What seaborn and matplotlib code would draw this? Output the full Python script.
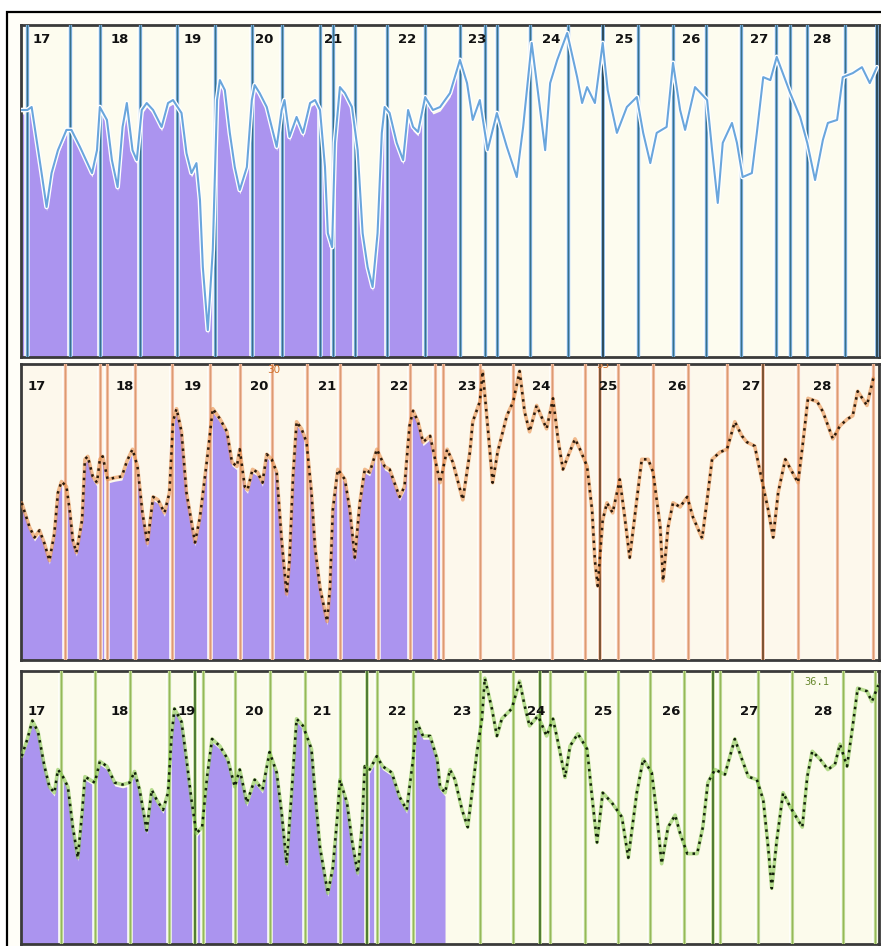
import numpy as np
import pandas as pd
import matplotlib
matplotlib.use("Agg")
import matplotlib.pyplot as plt
from matplotlib.patches import Rectangle
import seaborn as sns

# ---------------- data ----------------
day_labels = ["17", "18", "19", "20", "21", "22", "23", "24", "25", "26", "27", "28"]

# panel 1 (blue)
p1_day = [17.00, 17.08, 17.14, 17.21, 17.28, 17.35, 17.42, 17.51, 17.63, 17.70, 17.82, 17.99, 18.06, 18.10, 18.20,
          18.27, 18.35, 18.42, 18.48, 18.56, 18.62, 18.69, 18.76, 18.85, 18.97, 19.06, 19.13, 19.25, 19.32, 19.39,
          19.46, 19.51, 19.55, 19.62, 19.69, 19.75, 19.79, 19.86, 19.93, 20.00, 20.07, 20.17, 20.24, 20.28, 20.35,
          20.45, 20.52, 20.59, 20.66, 20.70, 20.77, 20.87, 20.96, 21.06, 21.13, 21.20, 21.27, 21.31, 21.37, 21.41,
          21.48, 21.55, 21.65, 21.73, 21.80, 21.87, 21.94, 22.01, 22.07, 22.11, 22.18, 22.28, 22.37, 22.44, 22.51,
          22.58, 22.68, 22.79, 22.89, 23.03, 23.17, 23.27, 23.35, 23.45, 23.56, 23.69, 23.83, 23.97, 24.06, 24.18,
          24.27, 24.37, 24.44, 24.54, 24.68, 24.82, 24.89, 24.96, 25.07, 25.18, 25.25, 25.38, 25.52, 25.66, 25.75,
          25.85, 25.94, 26.08, 26.17, 26.27, 26.34, 26.48, 26.65, 26.72, 26.80, 26.87, 27.00, 27.07, 27.15, 27.28,
          27.35, 27.44, 27.54, 27.63, 27.82, 27.96, 28.06, 28.17, 28.28, 28.35, 28.48, 28.56, 28.70, 28.83, 28.94,
          29.04]
p1_val = [74.4, 74.4, 75.3, 65.4, 55.4, 45.2, 55.4, 62.3, 68.4, 68.4, 63.3, 55.4, 62.3, 75.3, 71.4,
          59.3, 51.2, 69.3, 76.5, 62.3, 59.3, 74.4, 76.5, 74.4, 69.3, 76.5, 77.4, 73.5, 61.4, 55.4,
          58.4, 47.3, 27.1, 8.1, 32.2, 77.4, 83.4, 80.4, 67.5, 57.2, 50.3, 57.2, 77.4, 81.9, 79.5,
          75.3, 69.3, 63.3, 74.4, 77.4, 66.3, 72.3, 67.5, 76.5, 77.4, 74.4, 57.2, 37.3, 33.1, 64.5,
          81.3, 79.5, 75.3, 62.3, 37.3, 27.1, 21.1, 37.3, 67.5, 75.3, 73.5, 64.5, 59.3, 74.4, 69.3,
          67.8, 78.3, 74.4, 75.3, 79.5, 89.5, 82.5, 71.4, 77.4, 62.3, 73.5, 63.3, 54.2, 69.3, 94.6,
          79.5, 62.3, 82.5, 89.5, 97.6, 84.3, 76.5, 81.3, 76.5, 94.6, 80.4, 67.5, 75.3, 78.3, 67.5,
          58.4, 67.5, 69.3, 88.6, 74.4, 68.4, 81.3, 77.4, 62.3, 46.4, 64.5, 70.5, 64.5, 54.2, 55.4,
          67.5, 84.3, 83.4, 90.4, 79.5, 72.3, 64.5, 53.3, 65.4, 70.5, 71.4, 84.3, 85.5, 87.3, 82.5,
          87.3]
p1_marks = [17.08, 17.68, 18.10, 18.66, 19.18, 19.72, 20.24, 20.66, 21.20, 21.38, 21.69, 22.15, 22.68, 23.17,
            23.52, 23.69, 24.15, 24.69, 25.18, 25.68, 26.17, 26.63, 27.13, 27.62, 27.82, 28.06, 28.59, 29.04]
p1_dark = [25.18, 29.04]
p1_fill_end = 23.17

# panel 2 (orange)
p2_day = [17.00, 17.11, 17.18, 17.25, 17.32, 17.39, 17.46, 17.51, 17.56, 17.63, 17.68, 17.72, 17.77, 17.85, 17.89,
          17.93, 18.00, 18.06, 18.10, 18.14, 18.21, 18.31, 18.41, 18.48, 18.56, 18.63, 18.70, 18.77, 18.85, 18.92,
          19.01, 19.08, 19.13, 19.18, 19.25, 19.32, 19.44, 19.51, 19.61, 19.69, 19.79, 19.89, 19.96, 20.03, 20.07,
          20.14, 20.18, 20.25, 20.32, 20.39, 20.45, 20.52, 20.59, 20.66, 20.73, 20.77, 20.82, 20.87, 20.94, 21.01,
          21.08, 21.13, 21.20, 21.30, 21.34, 21.38, 21.45, 21.55, 21.62, 21.69, 21.76, 21.83, 21.90, 22.00, 22.11,
          22.18, 22.32, 22.39, 22.46, 22.51, 22.58, 22.65, 22.75, 22.85, 22.89, 22.99, 23.07, 23.21, 23.31, 23.35,
          23.45, 23.49, 23.56, 23.63, 23.70, 23.83, 23.92, 24.01, 24.08, 24.15, 24.25, 24.39, 24.48, 24.55, 24.62,
          24.69, 24.79, 24.86, 24.96, 25.03, 25.07, 25.11, 25.18, 25.24, 25.32, 25.42, 25.49, 25.56, 25.66, 25.73,
          25.82, 25.89, 25.99, 26.03, 26.10, 26.17, 26.27, 26.37, 26.45, 26.58, 26.65, 26.72, 26.83, 26.93, 27.04,
          27.14, 27.21, 27.32, 27.42, 27.51, 27.58, 27.65, 27.75, 27.85, 27.93, 28.00, 28.07, 28.20, 28.28, 28.42,
          28.52, 28.63, 28.70, 28.77, 28.90, 28.99]
p2_val = [53.1, 44.9, 41.4, 43.8, 39.4, 33.6, 42.8, 56.5, 60.3, 58.6, 49.7, 40.4, 36.3, 47.3, 67.8,
          68.8, 62.0, 59.9, 67.8, 68.8, 61.0, 61.6, 62.0, 67.1, 71.2, 65.4, 49.7, 39.4, 55.1, 54.1,
          49.7, 56.5, 80.5, 84.9, 77.1, 56.5, 39.7, 48.3, 67.8, 84.9, 81.5, 77.1, 66.8, 65.4, 71.2,
          58.6, 57.5, 64.4, 63.4, 59.9, 69.5, 67.8, 63.4, 40.4, 22.3, 33.6, 62.0, 80.5, 78.1, 73.6,
          56.5, 38.0, 24.3, 13.0, 24.3, 50.7, 64.4, 61.0, 50.7, 34.6, 53.1, 64.4, 63.4, 71.2, 65.4,
          64.4, 55.1, 58.6, 79.1, 84.2, 80.5, 73.6, 75.7, 64.4, 59.9, 71.2, 66.8, 54.1, 70.2, 80.5,
          87.3, 97.6, 79.1, 59.9, 70.2, 82.5, 87.3, 97.6, 83.9, 77.1, 86.0, 78.1, 88.4, 74.7, 64.4,
          68.8, 74.7, 71.2, 65.4, 50.7, 33.6, 25.0, 47.3, 53.1, 49.7, 61.0, 48.3, 34.6, 54.1, 67.8,
          67.8, 63.4, 44.9, 26.7, 44.9, 53.1, 51.7, 55.1, 48.3, 41.1, 54.1, 67.8, 70.2, 71.2, 80.5,
          75.7, 73.6, 72.3, 61.0, 50.7, 41.4, 56.5, 67.8, 63.4, 59.9, 73.6, 88.4, 87.3, 83.9, 74.7,
          79.1, 81.5, 82.5, 90.8, 86.0, 95.2]
p2_marks = [17.61, 18.10, 18.20, 18.59, 19.11, 19.65, 20.07, 20.52, 21.01, 21.48, 22.01, 22.46, 22.82, 22.93,
            23.45, 23.92, 24.46, 24.93, 25.14, 25.39, 25.89, 26.38, 26.93, 27.44, 27.93, 28.48, 28.99]
p2_dark = [25.14, 27.44]
p2_fill_end = 22.89

# panel 3 (green)
p3_day = [17.00, 17.08, 17.15, 17.23, 17.32, 17.39, 17.46, 17.51, 17.58, 17.65, 17.72, 17.79, 17.85, 17.89, 17.96,
          18.03, 18.10, 18.20, 18.31, 18.42, 18.52, 18.59, 18.66, 18.76, 18.83, 18.90, 18.99, 19.06, 19.11, 19.15,
          19.25, 19.32, 19.39, 19.46, 19.54, 19.61, 19.68, 19.79, 19.90, 20.00, 20.07, 20.17, 20.28, 20.39, 20.49,
          20.59, 20.66, 20.73, 20.80, 20.87, 20.96, 21.08, 21.13, 21.20, 21.31, 21.38, 21.44, 21.48, 21.58, 21.65,
          21.73, 21.79, 21.83, 21.90, 22.00, 22.08, 22.21, 22.32, 22.42, 22.51, 22.56, 22.65, 22.75, 22.85, 22.89,
          22.96, 23.03, 23.10, 23.20, 23.28, 23.35, 23.41, 23.48, 23.52, 23.62, 23.69, 23.76, 23.90, 24.01, 24.08,
          24.15, 24.27, 24.39, 24.48, 24.55, 24.65, 24.72, 24.83, 24.96, 25.03, 25.10, 25.18, 25.31, 25.45, 25.54,
          25.66, 25.75, 25.87, 25.94, 26.01, 26.10, 26.20, 26.27, 26.37, 26.51, 26.59, 26.66, 26.76, 26.90, 27.04,
          27.14, 27.23, 27.35, 27.44, 27.51, 27.56, 27.63, 27.72, 27.82, 27.99, 28.06, 28.13, 28.24, 28.35, 28.45,
          28.52, 28.62, 28.70, 28.77, 28.90, 28.97, 29.06]
p3_val = [68.8, 75.1, 81.8, 77.7, 65.1, 57.6, 55.4, 63.9, 61.3, 57.6, 42.8, 31.6, 48.0, 61.3, 60.2,
          59.1, 66.9, 65.1, 59.1, 58.4, 59.1, 63.2, 56.5, 41.6, 56.5, 52.8, 49.1, 55.4, 76.2, 86.2,
          81.4, 67.7, 52.8, 40.5, 42.8, 61.3, 75.1, 72.5, 67.7, 57.6, 63.9, 51.7, 60.2, 56.5, 70.3,
          62.8, 48.0, 29.4, 55.4, 82.5, 79.9, 71.4, 55.4, 35.3, 18.6, 27.9, 45.4, 60.2, 51.7, 37.9,
          26.0, 42.8, 65.1, 63.9, 68.8, 65.1, 62.8, 53.9, 49.1, 67.7, 81.4, 76.2, 76.2, 67.7, 57.6,
          55.4, 63.9, 60.2, 49.1, 42.8, 57.6, 70.3, 82.5, 97.4, 86.2, 76.2, 82.5, 86.2, 96.3, 87.4,
          79.9, 83.6, 76.2, 82.5, 74.0, 61.0, 72.5, 77.0, 71.4, 53.9, 37.2, 55.4, 51.7, 46.5, 31.6,
          55.4, 67.7, 62.8, 48.0, 29.4, 42.8, 47.2, 40.5, 33.1, 33.1, 42.8, 59.1, 63.9, 62.1, 75.1,
          67.7, 61.3, 60.2, 52.8, 35.3, 20.4, 37.9, 55.4, 50.2, 42.8, 61.3, 70.6, 67.7, 63.9, 65.8,
          73.2, 65.1, 79.9, 93.7, 92.6, 88.8, 94.8]
p3_marks = [17.56, 18.03, 18.52, 19.08, 19.44, 19.55, 20.00, 20.49, 20.99, 21.48, 21.86, 22.00, 22.51,
            23.45, 23.92, 24.30, 24.44, 24.93, 25.39, 25.85, 26.32, 26.73, 26.83, 27.37, 27.85, 28.56, 29.01]
p3_dark = [19.44, 21.86, 24.30, 26.73]
p3_fill_end = 22.96

# small annotation texts
p2_notes = [("30", 20.55, 98.0), ("35", 25.18, 99.5)]
p3_notes = [("36.1", 28.20, 96.0), ("35", 27.08, 101.0)]
p1_notes = [("35", 25.75, 101.5)]

# ---------------- style ----------------
sns.set_theme(style="white")
plt.rcParams["font.family"] = ["DejaVu Sans"]

fig = plt.figure(figsize=(8.81, 9.46), dpi=100)
fig.patch.set_facecolor("white")
fig.add_artist(Rectangle((7 / 881, -0.01), 1.02, 1 - 12 / 946 + 0.01, transform=fig.transFigure,
                         facecolor="#fffef8", edgecolor="black", lw=1.6, zorder=0))

W = 881.0
H = 946.0
panel_px = [(25, 357), (364, 660), (671, 944)]
label_x = [
    [17.28, 18.38, 19.41, 20.42, 21.39, 22.42, 23.41, 24.45, 25.48, 26.42, 27.38, 28.27],
    [17.21, 18.45, 19.41, 20.35, 21.30, 22.32, 23.27, 24.32, 25.25, 26.23, 27.27, 28.27],
    [17.21, 18.38, 19.32, 20.28, 21.23, 22.28, 23.20, 24.25, 25.18, 26.15, 27.24, 28.28],
]
label_y = [95.5, 92.5, 85.0]

panels = [
    dict(day=p1_day, val=p1_val, marks=p1_marks, dark=p1_dark, fill_end=p1_fill_end,
         bg="#fdfcef", mark_col="#7cb0e0", mark_core="#3a7088", dark_col="#1f3a44",
         line_col="#6aa6dc", halo="white", dotted=False, notes=p1_notes, note_col="#5b9bd5"),
    dict(day=p2_day, val=p2_val, marks=p2_marks, dark=p2_dark, fill_end=p2_fill_end,
         bg="#fdf8ec", mark_col="#f3c2a5", mark_core="#dc9a74", dark_col="#6a4020",
         line_col="#2a1a0c", halo="#e8904a", dotted=True, notes=p2_notes, note_col="#d0702a"),
    dict(day=p3_day, val=p3_val, marks=p3_marks, dark=p3_dark, fill_end=p3_fill_end,
         bg="#fcfbec", mark_col="#c4dc98", mark_core="#94b85a", dark_col="#3a6a20",
         line_col="#12200a", halo="#88c850", dotted=True, notes=p3_notes, note_col="#6a8a30"),
]

fill_col = "#ab94ef"

for i, p in enumerate(panels):
    top, bot = panel_px[i]
    ax = fig.add_axes([21 / W, 1 - bot / H, (879 - 21) / W, (bot - top) / H])
    ax.set_facecolor(p["bg"])
    ax.set_xlim(16.99, 29.07)
    ax.set_ylim(0, 100)
    ax.set_xticks([])
    ax.set_yticks([])
    for s in ax.spines.values():
        s.set_color("#3a3a3a")
        s.set_linewidth(2.0)

    df = pd.DataFrame({"day": p["day"], "val": p["val"]})
    under = df[df["day"] <= p["fill_end"] + 1e-9]
    ax.fill_between(under["day"], 0, under["val"] - 1.2, color=fill_col, lw=0, zorder=1)

    # vertical marks
    for m in p["marks"]:
        ax.axvline(m, color="white", lw=4.0, zorder=2)
        if m in p["dark"]:
            ax.axvline(m, color=p["mark_col"], lw=2.6, zorder=3)
            ax.axvline(m, color=p["dark_col"], lw=1.2, zorder=3.1)
        else:
            ax.axvline(m, color=p["mark_col"], lw=2.4, zorder=3)
            ax.axvline(m, color=p["mark_core"], lw=0.9, zorder=3.1)

    # curve
    if p["dotted"]:
        sns.lineplot(data=df, x="day", y="val", ax=ax, color=p["halo"], lw=2.6, alpha=0.6,
                     sort=False, estimator=None, zorder=4)
        sns.lineplot(data=df, x="day", y="val", ax=ax, color=p["line_col"], lw=1.8,
                     linestyle=(0, (1.0, 1.9)), sort=False, estimator=None, zorder=5)
    else:
        sns.lineplot(data=df, x="day", y="val", ax=ax, color="white", lw=3.4,
                     sort=False, estimator=None, zorder=4)
        sns.lineplot(data=df, x="day", y="val", ax=ax, color=p["line_col"], lw=1.5,
                     sort=False, estimator=None, zorder=5)
    ax.set_xlabel("")
    ax.set_ylabel("")

    for lab, lx in zip(day_labels, label_x[i]):
        ax.text(lx, label_y[i], lab, ha="center", va="center", fontsize=9.5,
                fontweight="bold", color="#111111", zorder=6)
    for txt, nx, ny in p["notes"]:
        ax.text(nx, ny, txt, ha="center", va="center", fontsize=7.5, color=p["note_col"],
                zorder=6, clip_on=True, family="DejaVu Sans Mono" if "." in txt else "DejaVu Sans")

fig.savefig("out.png", dpi=100, facecolor=fig.get_facecolor())
